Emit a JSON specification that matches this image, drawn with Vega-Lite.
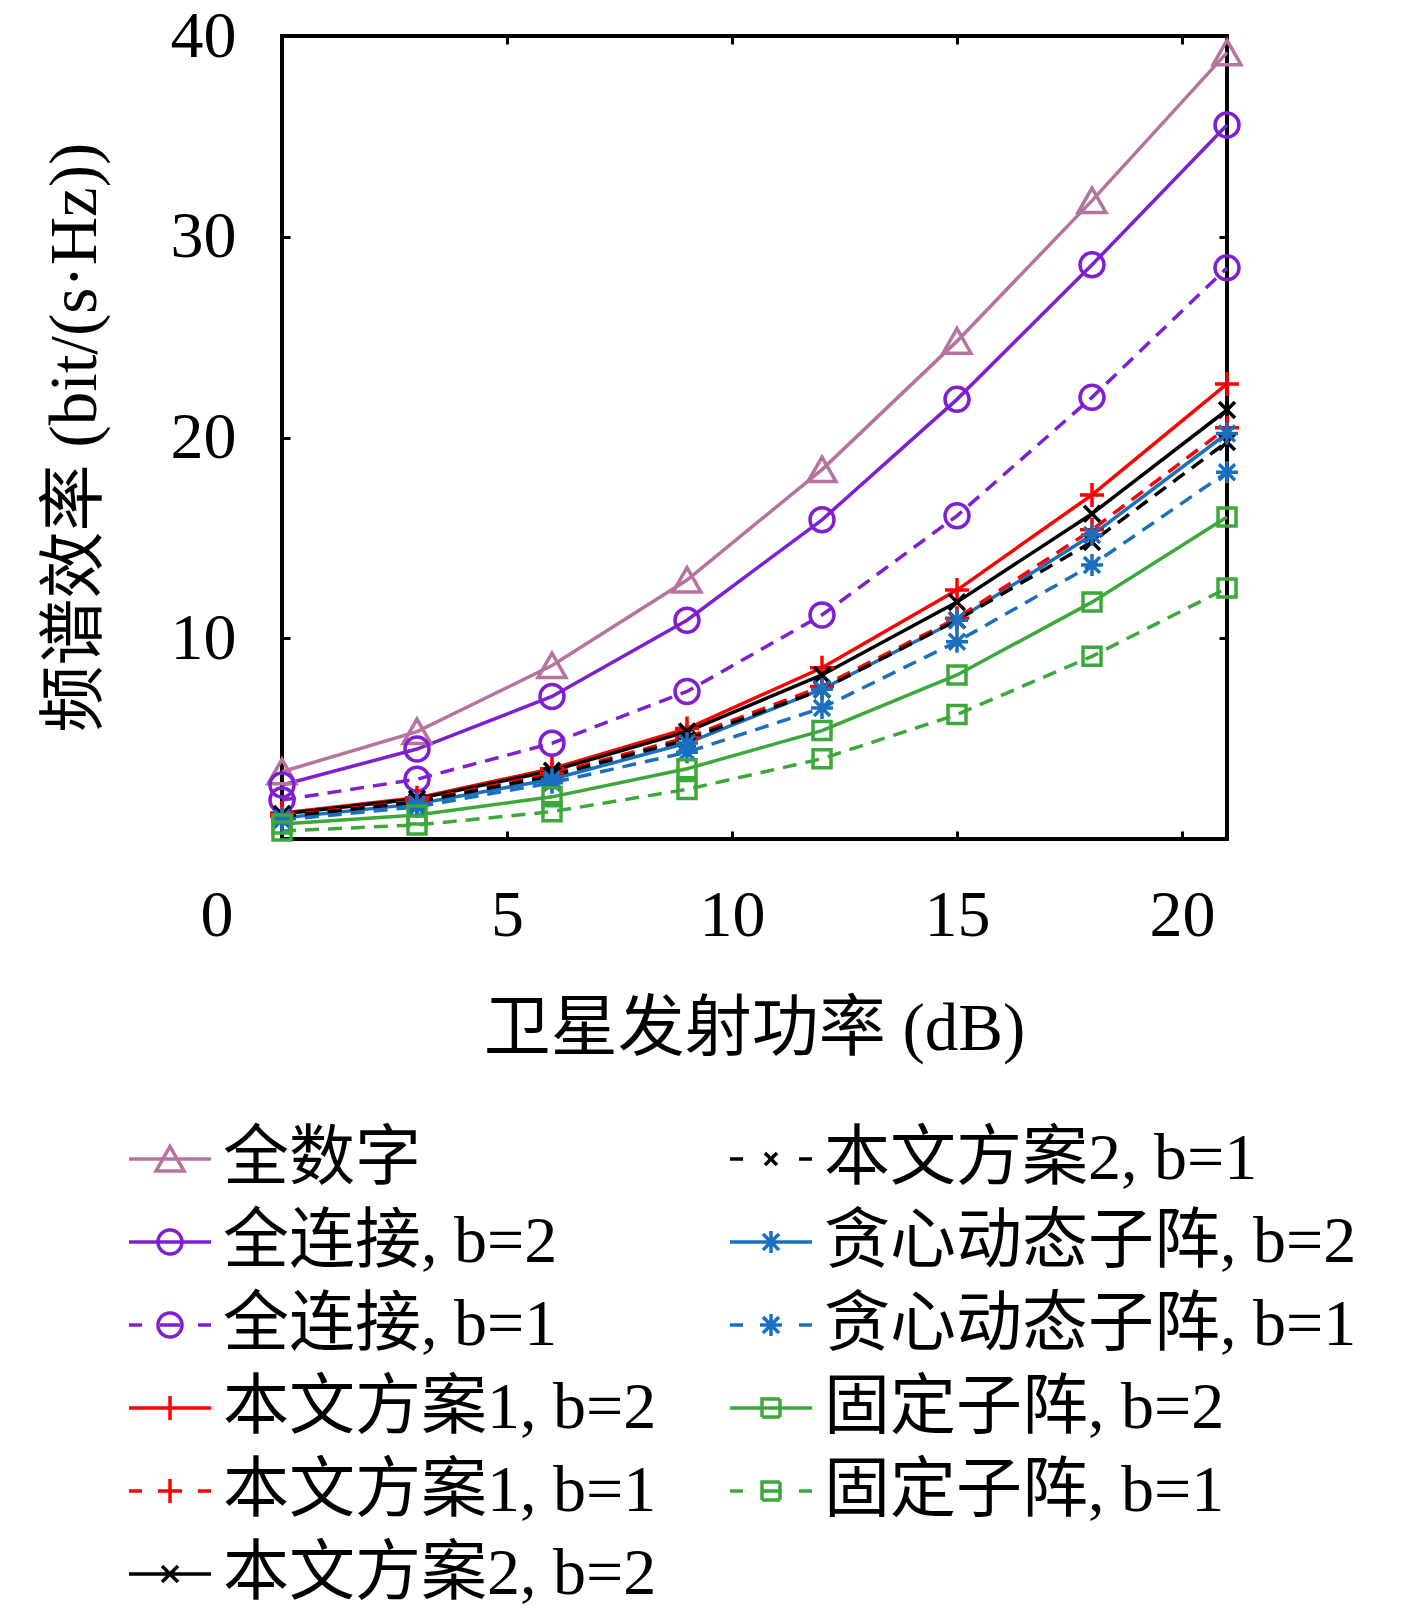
{
  "$schema": "https://vega.github.io/schema/vega-lite/v6.json",
  "width": 945,
  "height": 803,
  "autosize": {"type": "none"},
  "padding": {"left": 282, "top": 36, "right": 190, "bottom": 778},
  "background": "white",
  "config": {
    "font": "Liberation Serif, Noto Sans CJK SC",
    "view": {"stroke": "#000000", "strokeWidth": 4},
    "axis": {
      "grid": false,
      "domain": false,
      "tickColor": "#000000",
      "tickWidth": 3,
      "tickSize": -8,
      "labelFont": "Liberation Serif, Noto Sans CJK SC",
      "labelFontSize": 66,
      "labelColor": "#000000",
      "titleFont": "Liberation Serif, Noto Sans CJK SC",
      "titleFontSize": 67,
      "titleFontWeight": "normal",
      "titleColor": "#000000"
    }
  },
  "data": {
    "values": [
      {"s": "全数字", "x": 0, "y": 3.35}, {"s": "全数字", "x": 3, "y": 5.35}, {"s": "全数字", "x": 6, "y": 8.64}, {"s": "全数字", "x": 9, "y": 12.9}, {"s": "全数字", "x": 12, "y": 18.4}, {"s": "全数字", "x": 15, "y": 24.8}, {"s": "全数字", "x": 18, "y": 31.8}, {"s": "全数字", "x": 21, "y": 39.17},
      {"s": "全连接, b=2", "x": 0, "y": 2.69}, {"s": "全连接, b=2", "x": 3, "y": 4.48}, {"s": "全连接, b=2", "x": 6, "y": 7.1}, {"s": "全连接, b=2", "x": 9, "y": 10.9}, {"s": "全连接, b=2", "x": 12, "y": 15.9}, {"s": "全连接, b=2", "x": 15, "y": 21.9}, {"s": "全连接, b=2", "x": 18, "y": 28.6}, {"s": "全连接, b=2", "x": 21, "y": 35.57},
      {"s": "全连接, b=1", "x": 0, "y": 1.94}, {"s": "全连接, b=1", "x": 3, "y": 2.98}, {"s": "全连接, b=1", "x": 6, "y": 4.77}, {"s": "全连接, b=1", "x": 9, "y": 7.35}, {"s": "全连接, b=1", "x": 12, "y": 11.16}, {"s": "全连接, b=1", "x": 15, "y": 16.1}, {"s": "全连接, b=1", "x": 18, "y": 22.0}, {"s": "全连接, b=1", "x": 21, "y": 28.45},
      {"s": "本文方案1, b=2", "x": 0, "y": 1.3}, {"s": "本文方案1, b=2", "x": 3, "y": 2.05}, {"s": "本文方案1, b=2", "x": 6, "y": 3.5}, {"s": "本文方案1, b=2", "x": 9, "y": 5.5}, {"s": "本文方案1, b=2", "x": 12, "y": 8.53}, {"s": "本文方案1, b=2", "x": 15, "y": 12.4}, {"s": "本文方案1, b=2", "x": 18, "y": 17.14}, {"s": "本文方案1, b=2", "x": 21, "y": 22.67},
      {"s": "本文方案1, b=1", "x": 0, "y": 1.15}, {"s": "本文方案1, b=1", "x": 3, "y": 1.9}, {"s": "本文方案1, b=1", "x": 6, "y": 3.25}, {"s": "本文方案1, b=1", "x": 9, "y": 5.05}, {"s": "本文方案1, b=1", "x": 12, "y": 7.6}, {"s": "本文方案1, b=1", "x": 15, "y": 11.0}, {"s": "本文方案1, b=1", "x": 18, "y": 15.4}, {"s": "本文方案1, b=1", "x": 21, "y": 20.49},
      {"s": "本文方案2, b=2", "x": 0, "y": 1.25}, {"s": "本文方案2, b=2", "x": 3, "y": 2.0}, {"s": "本文方案2, b=2", "x": 6, "y": 3.4}, {"s": "本文方案2, b=2", "x": 9, "y": 5.35}, {"s": "本文方案2, b=2", "x": 12, "y": 8.17}, {"s": "本文方案2, b=2", "x": 15, "y": 11.8}, {"s": "本文方案2, b=2", "x": 18, "y": 16.2}, {"s": "本文方案2, b=2", "x": 21, "y": 21.37},
      {"s": "本文方案2, b=1", "x": 0, "y": 1.1}, {"s": "本文方案2, b=1", "x": 3, "y": 1.85}, {"s": "本文方案2, b=1", "x": 6, "y": 3.15}, {"s": "本文方案2, b=1", "x": 9, "y": 4.95}, {"s": "本文方案2, b=1", "x": 12, "y": 7.45}, {"s": "本文方案2, b=1", "x": 15, "y": 10.9}, {"s": "本文方案2, b=1", "x": 18, "y": 14.8}, {"s": "本文方案2, b=1", "x": 21, "y": 19.78},
      {"s": "贪心动态子阵, b=2", "x": 0, "y": 1.05}, {"s": "贪心动态子阵, b=2", "x": 3, "y": 1.75}, {"s": "贪心动态子阵, b=2", "x": 6, "y": 2.98}, {"s": "贪心动态子阵, b=2", "x": 9, "y": 4.78}, {"s": "贪心动态子阵, b=2", "x": 12, "y": 7.46}, {"s": "贪心动态子阵, b=2", "x": 15, "y": 10.9}, {"s": "贪心动态子阵, b=2", "x": 18, "y": 15.14}, {"s": "贪心动态子阵, b=2", "x": 21, "y": 20.2},
      {"s": "贪心动态子阵, b=1", "x": 0, "y": 0.95}, {"s": "贪心动态子阵, b=1", "x": 3, "y": 1.6}, {"s": "贪心动态子阵, b=1", "x": 6, "y": 2.8}, {"s": "贪心动态子阵, b=1", "x": 9, "y": 4.32}, {"s": "贪心动态子阵, b=1", "x": 12, "y": 6.53}, {"s": "贪心动态子阵, b=1", "x": 15, "y": 9.83}, {"s": "贪心动态子阵, b=1", "x": 18, "y": 13.65}, {"s": "贪心动态子阵, b=1", "x": 21, "y": 18.27},
      {"s": "固定子阵, b=2", "x": 0, "y": 0.75}, {"s": "固定子阵, b=2", "x": 3, "y": 1.2}, {"s": "固定子阵, b=2", "x": 6, "y": 2.1}, {"s": "固定子阵, b=2", "x": 9, "y": 3.5}, {"s": "固定子阵, b=2", "x": 12, "y": 5.4}, {"s": "固定子阵, b=2", "x": 15, "y": 8.17}, {"s": "固定子阵, b=2", "x": 18, "y": 11.8}, {"s": "固定子阵, b=2", "x": 21, "y": 16.04},
      {"s": "固定子阵, b=1", "x": 0, "y": 0.4}, {"s": "固定子阵, b=1", "x": 3, "y": 0.7}, {"s": "固定子阵, b=1", "x": 6, "y": 1.36}, {"s": "固定子阵, b=1", "x": 9, "y": 2.47}, {"s": "固定子阵, b=1", "x": 12, "y": 4.0}, {"s": "固定子阵, b=1", "x": 15, "y": 6.2}, {"s": "固定子阵, b=1", "x": 18, "y": 9.1}, {"s": "固定子阵, b=1", "x": 21, "y": 12.5}
    ]
  },
  "encoding": {
    "x": {"field": "x", "type": "quantitative", "scale": {"domain": [0, 21], "nice": false, "zero": false}, "axis": null},
    "y": {"field": "y", "type": "quantitative", "scale": {"domain": [0, 40], "nice": false}, "axis": null},
    "color": {
      "field": "s",
      "type": "nominal",
      "scale": {
        "domain": ["全数字", "全连接, b=2", "全连接, b=1", "本文方案1, b=2", "本文方案1, b=1", "本文方案2, b=2", "本文方案2, b=1", "贪心动态子阵, b=2", "贪心动态子阵, b=1", "固定子阵, b=2", "固定子阵, b=1"],
        "range": ["#B5739D", "#7F1FD1", "#7F1FD1", "#FF0000", "#FF0000", "#000000", "#000000", "#1B6FBF", "#1B6FBF", "#3DA83A", "#3DA83A"]
      },
      "legend": {
        "orient": "none",
        "legendX": -175,
        "legendY": 1090,
        "columns": 2,
        "title": null,
        "labelFont": "Liberation Serif, Noto Sans CJK SC",
        "labelFontSize": 66,
        "labelColor": "#000000",
        "labelLimit": 900,
        "symbolSize": 400,
        "symbolStrokeWidth": 3.5,
        "symbolDash": [1, 0],
        "symbolOffset": 30,
        "labelOffset": 20,
        "rowPadding": 17,
        "columnPadding": 51,
        "padding": 0
      }
    }
  },
  "layer": [
    {
      "transform": [{"filter": {"field": "s", "oneOf": ["全数字", "全连接, b=2", "本文方案1, b=2", "本文方案2, b=2", "贪心动态子阵, b=2", "固定子阵, b=2"]}}],
      "mark": {"type": "line", "strokeWidth": 3.5},
      "encoding": {
        "x": {
          "field": "x", "type": "quantitative",
          "axis": {
            "orient": "bottom",
            "values": [0, 5, 10, 15, 20],
            "labelPadding": 84,
            "labelBaseline": "middle",
            "labelOffset": {"condition": {"test": "datum.value === 0", "value": -82}, "value": 0},
            "title": "卫星发射功率 (dB)",
            "titleX": 472,
            "titleY": 190,
            "titleBaseline": "middle",
            "titleAlign": "center"
          }
        },
        "y": {
          "field": "y", "type": "quantitative",
          "axis": {
            "orient": "left",
            "values": [10, 20, 30, 40],
            "labelPadding": 54,
            "title": "频谱效率 (bit/(s·Hz))",
            "titleX": -207,
            "titleY": 401,
            "titleAngle": -90,
            "titleBaseline": "middle",
            "titleAlign": "center"
          }
        }
      }
    },
    {
      "transform": [{"filter": {"field": "s", "oneOf": ["全连接, b=1", "本文方案1, b=1", "本文方案2, b=1", "贪心动态子阵, b=1", "固定子阵, b=1"]}}],
      "mark": {"type": "line", "strokeWidth": 3.5, "strokeDash": [14, 9]}
    },
    {
      "transform": [{"filter": {"field": "s", "oneOf": ["全数字"]}}],
      "mark": {"type": "point", "filled": false, "strokeWidth": 3.5, "opacity": 1, "size": 400, "shape": "M0,-1.25L1.4,1.2L-1.4,1.2Z"}
    },
    {
      "transform": [{"filter": {"field": "s", "oneOf": ["全连接, b=2", "全连接, b=1"]}}],
      "mark": {"type": "point", "filled": false, "strokeWidth": 3.5, "opacity": 1, "size": 400, "shape": "M-1.2,0A1.2,1.2 0 1,1 1.2,0A1.2,1.2 0 1,1 -1.2,0Z"}
    },
    {
      "transform": [{"filter": {"field": "s", "oneOf": ["本文方案1, b=2", "本文方案1, b=1"]}}],
      "mark": {"type": "point", "filled": false, "strokeWidth": 3.5, "opacity": 1, "size": 400, "shape": "M-1.2,0L1.2,0M0,-1.2L0,1.2"}
    },
    {
      "transform": [{"filter": {"field": "s", "oneOf": ["本文方案2, b=2", "本文方案2, b=1"]}}],
      "mark": {"type": "point", "filled": false, "strokeWidth": 3.5, "opacity": 1, "size": 400, "shape": "M-0.8,-0.8L0.8,0.8M-0.8,0.8L0.8,-0.8"}
    },
    {
      "transform": [{"filter": {"field": "s", "oneOf": ["贪心动态子阵, b=2", "贪心动态子阵, b=1"]}}],
      "mark": {"type": "point", "filled": false, "strokeWidth": 3.5, "opacity": 1, "size": 400, "shape": "M-1.1,0L1.1,0M0,-1.1L0,1.1M-0.8,-0.8L0.8,0.8M-0.8,0.8L0.8,-0.8"}
    },
    {
      "transform": [{"filter": {"field": "s", "oneOf": ["固定子阵, b=2", "固定子阵, b=1"]}}],
      "mark": {"type": "point", "filled": false, "strokeWidth": 3.5, "opacity": 1, "size": 400, "shape": "M-0.9,-0.9L0.9,-0.9L0.9,0.9L-0.9,0.9Z"}
    },
    {
      "transform": [{"filter": "false"}],
      "mark": {"type": "point", "filled": false, "strokeWidth": 3.5},
      "encoding": {
        "x": {
          "field": "x", "type": "quantitative",
          "axis": {"orient": "top", "values": [5, 10, 15, 20], "labels": false, "title": null}
        },
        "y": {
          "field": "y", "type": "quantitative",
          "axis": {"orient": "right", "values": [10, 20, 30], "labels": false, "title": null}
        },
        "shape": {
          "field": "s",
          "type": "nominal",
          "scale": {
            "domain": ["全数字", "全连接, b=2", "全连接, b=1", "本文方案1, b=2", "本文方案1, b=1", "本文方案2, b=2", "本文方案2, b=1", "贪心动态子阵, b=2", "贪心动态子阵, b=1", "固定子阵, b=2", "固定子阵, b=1"],
            "range": [
              "M-4.1,0L4.1,0M0,-1.25L1.4,1.2L-1.4,1.2Z",
              "M-4.1,0L4.1,0M-1.2,0A1.2,1.2 0 1,1 1.2,0A1.2,1.2 0 1,1 -1.2,0Z",
              "M-4.1,0L-2.8,0M2.8,0L4.1,0M-1,0L1,0M-1.2,0A1.2,1.2 0 1,1 1.2,0A1.2,1.2 0 1,1 -1.2,0Z",
              "M-4.1,0L4.1,0M0,-1.2L0,1.2",
              "M-4.1,0L-2.8,0M2.8,0L4.1,0M-1.2,0L1.2,0M0,-1.2L0,1.2",
              "M-4.1,0L4.1,0M-0.8,-0.8L0.8,0.8M-0.8,0.8L0.8,-0.8",
              "M-4.1,0L-2.8,0M2.8,0L4.1,0M-0.6,-0.6L0.6,0.6M-0.6,0.6L0.6,-0.6",
              "M-4.1,0L4.1,0M0,-1.1L0,1.1M-0.8,-0.8L0.8,0.8M-0.8,0.8L0.8,-0.8",
              "M-4.1,0L-2.8,0M2.8,0L4.1,0M-1.1,0L1.1,0M0,-1.1L0,1.1M-0.8,-0.8L0.8,0.8M-0.8,0.8L0.8,-0.8",
              "M-4.1,0L4.1,0M-0.9,-0.9L0.9,-0.9L0.9,0.9L-0.9,0.9Z",
              "M-4.1,0L-2.8,0M2.8,0L4.1,0M-0.9,0L0.9,0M-0.9,-0.9L0.9,-0.9L0.9,0.9L-0.9,0.9Z"
            ]
          },
          "legend": {
            "orient": "none",
            "legendX": -175,
            "legendY": 1090,
            "columns": 2,
            "title": null,
            "labelFont": "Liberation Serif, Noto Sans CJK SC",
            "labelFontSize": 66,
            "labelColor": "#000000",
            "labelLimit": 900,
            "symbolSize": 400,
            "symbolStrokeWidth": 3.5,
            "symbolDash": [1, 0],
            "symbolOffset": 30,
            "labelOffset": 20,
            "rowPadding": 17,
            "columnPadding": 51,
            "padding": 0
          }
        }
      }
    }
  ],
  "resolve": {"axis": {"x": "independent", "y": "independent"}}
}
